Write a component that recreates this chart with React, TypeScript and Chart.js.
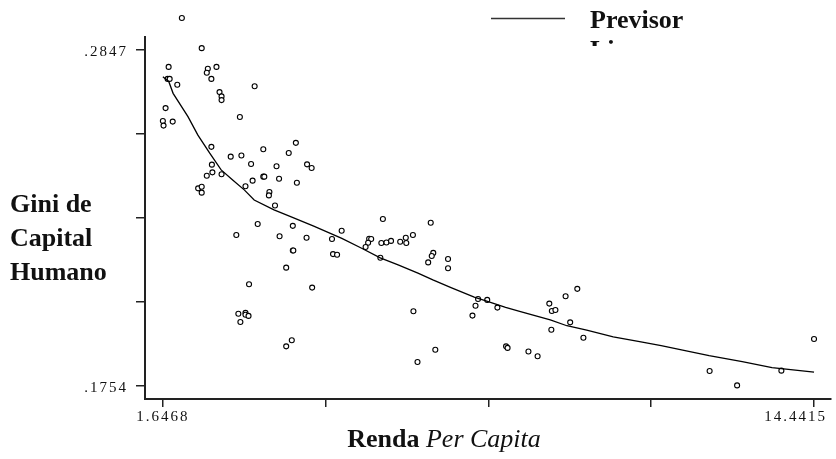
import React, { useEffect, useRef } from "react";
import { Chart, registerables } from "chart.js";

Chart.register(...registerables);

// ---- Data ----
const rendaPerCapita: number[] = [
  2.02, 2.41, 1.76, 1.74, 1.78, 1.93, 2.53, 2.51, 2.70, 2.60,
  2.76, 2.80, 2.80, 3.45, 1.70, 1.6468, 1.66, 1.84, 3.16, 2.60,
  2.98, 3.19, 3.62, 4.26, 4.12, 2.61, 3.38, 3.88, 4.48, 4.57,
  2.51, 2.62, 2.80, 3.62, 3.64, 3.41, 3.93, 4.28, 3.27, 2.34,
  2.41, 2.41, 3.74, 3.73, 3.85, 3.51, 4.20, 3.09, 3.94, 4.47,
  4.20, 4.21, 4.07, 3.34, 4.58, 3.13, 3.27, 3.27, 3.33, 3.17,
  4.18, 4.07, 5.97, 6.91, 5.16, 4.97, 5.70, 5.74, 5.68, 5.63,
  5.94, 6.04, 6.13, 6.31, 6.42, 6.43, 6.56, 4.99, 5.07, 5.92,
  6.96, 6.93, 6.86, 7.25, 7.25, 6.57, 7.84, 8.02, 7.79, 7.73,
  7.00, 6.65, 8.22, 9.79, 9.56, 9.24, 9.29, 9.36, 9.65, 9.28,
  9.91, 8.39, 8.42, 8.83, 9.01, 12.39, 12.93, 13.80, 14.4415,
];

const giniCapitalHumano: number[] = [
  0.2951, 0.2853, 0.2792, 0.2753, 0.2753, 0.2734, 0.2786, 0.2773, 0.2792, 0.2753,
  0.2710, 0.2696, 0.2684, 0.2729, 0.2658, 0.2616, 0.2601, 0.2614, 0.2629, 0.2532,
  0.2500, 0.2504, 0.2524, 0.2545, 0.2512, 0.2474, 0.2476, 0.2469, 0.2475, 0.2463,
  0.2438, 0.2449, 0.2443, 0.2435, 0.2435, 0.2422, 0.2428, 0.2415, 0.2404, 0.2397,
  0.2402, 0.2383, 0.2385, 0.2374, 0.2341, 0.2281, 0.2275, 0.2245, 0.2241, 0.2236,
  0.2195, 0.2195, 0.2139, 0.2085, 0.2074, 0.1989, 0.1992, 0.1986, 0.1982, 0.1962,
  0.1903, 0.1883, 0.2297, 0.2285, 0.2259, 0.2232, 0.2233, 0.2232, 0.2220, 0.2206,
  0.2219, 0.2221, 0.2226, 0.2223, 0.2236, 0.2219, 0.2245, 0.2183, 0.2181, 0.2171,
  0.2187, 0.2177, 0.2156, 0.2167, 0.2137, 0.1997, 0.2037, 0.2034, 0.2015, 0.1983,
  0.1872, 0.1832, 0.2009, 0.2070, 0.2046, 0.2022, 0.1998, 0.2001, 0.1961, 0.1937,
  0.1911, 0.1883, 0.1878, 0.1866, 0.1851, 0.1803, 0.1756, 0.1804, 0.1907,
];

const previsorX: number[] = [
  1.6468, 1.764, 1.848, 2.140, 2.335, 2.564, 2.792, 3.018, 3.246, 3.441,
  3.831, 4.157, 4.611, 5.163, 5.553, 5.918, 6.269, 6.659, 6.952, 7.309,
  7.765, 8.025, 8.381, 8.674, 9.259, 9.585, 9.975, 10.496, 11.014, 11.438,
  11.861, 12.380, 13.031, 13.616, 14.4415,
];
const previsorY: number[] = [
  0.2760, 0.2744, 0.2706, 0.2630, 0.2570, 0.2512, 0.2457, 0.2424, 0.2392, 0.2359,
  0.2327, 0.2305, 0.2274, 0.2234, 0.2202, 0.2171, 0.2148, 0.2121, 0.2099, 0.2074,
  0.2043, 0.2029, 0.2010, 0.1996, 0.1969, 0.1950, 0.1936, 0.1914, 0.1898, 0.1885,
  0.1871, 0.1853, 0.1833, 0.1814, 0.1799,
];

const xTickValues: number[] = [1.6468, 4.845475, 8.04415, 11.242825, 14.4415];
const xTickLabels: string[] = ["1.6468", "", "", "", "14.4415"];
const yTickValues: number[] = [0.1754, 0.202725, 0.23005, 0.257375, 0.2847];
const yTickLabels: string[] = [".1754", "", "", "", ".2847"];
const yAxisLineTop = 0.28925; // where the drawn y axis line ends

const xTitleBold = "Renda";
const xTitleItalic = "Per Capita";
const yTitleLines: string[] = ["Gini de", "Capital", "Humano"];
const legendLines: string[] = ["Previsor", "Linear"];

const SERIF = '"Liberation Serif", "Times New Roman", serif';

const annotationsPlugin = {
  id: "customText",
  beforeDatasetsDraw(chart: any) {
    const ctx = chart.ctx as CanvasRenderingContext2D;
    const xs = chart.scales.x;
    const ys = chart.scales.y;
    ctx.save();
    ctx.strokeStyle = "#222";
    ctx.lineWidth = 2;
    ctx.beginPath();
    ctx.moveTo(xs.left, ys.getPixelForValue(yAxisLineTop));
    ctx.lineTo(xs.left, ys.bottom + 1);
    ctx.stroke();
    ctx.restore();
  },
  afterDraw(chart: any) {
    const ctx = chart.ctx as CanvasRenderingContext2D;
    const xs = chart.scales.x;
    const ys = chart.scales.y;
    ctx.save();
    ctx.fillStyle = "#111";
    // tick labels
    ctx.font = `15px ${SERIF}`;
    (ctx as any).letterSpacing = "2px";
    ctx.textBaseline = "middle";
    yTickValues.forEach((v, i) => {
      const lbl = yTickLabels[i];
      if (!lbl) return;
      ctx.textAlign = "right";
      ctx.fillText(lbl, xs.left - 17, ys.getPixelForValue(v) + 2);
    });
    xTickValues.forEach((v, i) => {
      const lbl = xTickLabels[i];
      if (!lbl) return;
      const px = xs.getPixelForValue(v);
      const w = ctx.measureText(lbl).width;
      let left = px - w / 2;
      if (left + w > chart.width - 9) left = chart.width - 9 - w;
      ctx.textAlign = "left";
      ctx.fillText(lbl, left, ys.bottom + 18);
    });
    (ctx as any).letterSpacing = "0px";

    // y title
    ctx.textBaseline = "alphabetic";
    ctx.textAlign = "left";
    ctx.font = `bold 26px ${SERIF}`;
    yTitleLines.forEach((t, i) => {
      ctx.fillText(t, 10, 212 + i * 34);
    });

    // x title
    ctx.font = `bold 26px ${SERIF}`;
    const wb = ctx.measureText(xTitleBold + " ").width;
    ctx.font = `italic 26px ${SERIF}`;
    const wi = ctx.measureText(xTitleItalic).width;
    const cx = 444;
    const start = cx - (wb + wi) / 2;
    ctx.font = `bold 26px ${SERIF}`;
    ctx.fillText(xTitleBold, start, 447);
    ctx.font = `italic 26px ${SERIF}`;
    ctx.fillText(xTitleItalic, start + wb, 447);

    // legend
    ctx.strokeStyle = "#333";
    ctx.lineWidth = 1.5;
    ctx.beginPath();
    ctx.moveTo(491, 18.5);
    ctx.lineTo(565, 18.5);
    ctx.stroke();
    ctx.font = `bold 26px ${SERIF}`;
    ctx.fillText(legendLines[0], 590, 28);
    ctx.beginPath();
    ctx.rect(0, 0, chart.width, 46);
    ctx.clip();
    ctx.fillText(legendLines[1], 590, 58);
    ctx.restore();
  },
};

export default function App() {
  const canvasRef = useRef<HTMLCanvasElement | null>(null);

  useEffect(() => {
    if (!canvasRef.current) return;
    const scatterData = rendaPerCapita.map((x, i) => ({ x, y: giniCapitalHumano[i] }));
    const lineData = previsorX.map((x, i) => ({ x, y: previsorY[i] }));

    const chart = new Chart(canvasRef.current, {
      type: "scatter",
      data: {
        datasets: [
          {
            label: "Previsor Linear",
            data: lineData,
            showLine: true,
            borderColor: "#000",
            borderWidth: 1.3,
            pointRadius: 0,
            fill: false,
            tension: 0,
          },
          {
            label: "Observado",
            data: scatterData,
            pointRadius: 2.5,
            pointBorderWidth: 1.1,
            borderColor: "#000",
            backgroundColor: "#fff",
            pointBackgroundColor: "#fff",
            pointBorderColor: "#000",
            clip: false as any,
          },
        ],
      },
      options: {
        animation: false,
        responsive: false,
        events: [],
        layout: { padding: { top: 10, left: 0, right: 0, bottom: 0 } },
        plugins: {
          legend: { display: false },
          tooltip: { enabled: false },
          title: { display: false },
        },
        scales: {
          x: {
            type: "linear",
            position: "bottom",
            min: 1.2957,
            max: 14.773,
            border: { display: true, color: "#222", width: 2 },
            grid: {
              display: true,
              drawOnChartArea: false,
              drawTicks: true,
              tickLength: 8,
              color: "#222",
              lineWidth: 1.5,
            },
            ticks: { display: false },
            afterBuildTicks: (scale: any) => {
              scale.ticks = xTickValues.map((v) => ({ value: v }));
            },
            afterFit: (scale: any) => {
              scale.height = 60;
            },
          },
          y: {
            type: "linear",
            position: "left",
            min: 0.17117,
            max: 0.29771,
            border: { display: false },
            grid: {
              display: true,
              drawOnChartArea: false,
              drawTicks: true,
              tickLength: 9,
              color: "#222",
              lineWidth: 1.5,
            },
            ticks: { display: false },
            afterBuildTicks: (scale: any) => {
              scale.ticks = yTickValues.map((v) => ({ value: v }));
            },
            afterFit: (scale: any) => {
              scale.width = 145;
            },
          },
        },
      },
      plugins: [annotationsPlugin],
    });
    return () => chart.destroy();
  }, []);

  return (
    <div
      style={{
        position: "fixed",
        left: 0,
        top: 0,
        width: 836,
        height: 459,
        background: "#fff",
      }}
    >
      <canvas ref={canvasRef} width={836} height={459} />
    </div>
  );
}
